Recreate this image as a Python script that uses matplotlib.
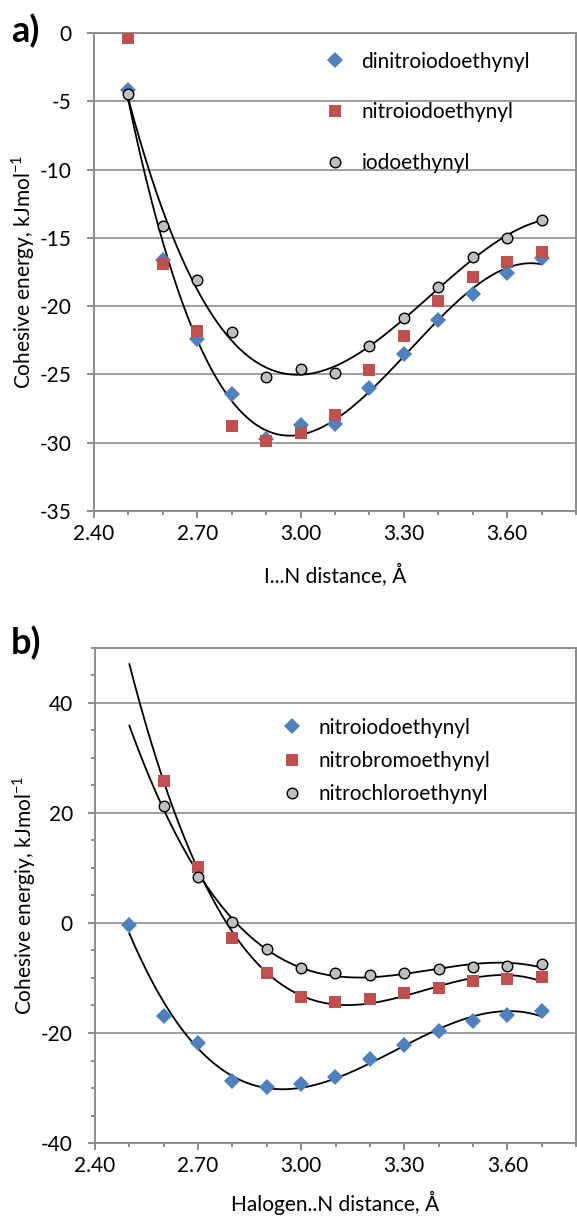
import numpy as np
import matplotlib
matplotlib.use("Agg")
from matplotlib import pyplot as plt
from matplotlib.ticker import MultipleLocator, FormatStrFormatter

plt.rcParams['font.family'] = ['Lato', 'DejaVu Sans']
plt.rcParams['mathtext.fontset'] = 'custom'
plt.rcParams['mathtext.rm'] = 'Lato'
plt.rcParams['axes.unicode_minus'] = False

# I...N / Halogen..N distances
dist_a = [2.5, 2.6, 2.7, 2.8, 2.9, 3.0, 3.1, 3.2, 3.3, 3.4, 3.5, 3.6, 3.7]
dist_b_x = [2.6, 2.7, 2.8, 2.9, 3.0, 3.1, 3.2, 3.3, 3.4, 3.5, 3.6, 3.7]

# a) cohesive energies, kJ/mol
dinitroiodo = [-4.2, -16.6, -22.4, -26.4, -29.7, -28.7, -28.6, -26.0, -23.5, -21.0, -19.1, -17.6, -16.5]
nitroiodo = [-0.4, -16.9, -21.8, -28.8, -29.9, -29.3, -28.0, -24.7, -22.2, -19.6, -17.9, -16.8, -16.0]
iodo = [-4.5, -14.1, -18.1, -21.9, -25.2, -24.6, -24.9, -22.9, -20.9, -18.6, -16.4, -15.0, -13.7]

# b) halogen series (nitroiodoethynyl same as above)
nitrobromo = [25.9, 10.2, -2.7, -9.1, -13.5, -14.4, -13.8, -12.8, -11.8, -10.6, -10.2, -9.9]
nitrochloro = [21.3, 8.4, 0.1, -4.7, -8.1, -9.1, -9.5, -9.1, -8.4, -8.0, -7.8, -7.5]

BLUE = '#4F81BD'
RED = '#C0504D'
GREY_FILL = '#BFBFBF'
AXIS_GREY = '#8C8C8C'
FS = 15

marker_kw = {
    'blue': dict(marker='D', ms=8, mfc=BLUE, mec=BLUE, mew=0, ls='none'),
    'red': dict(marker='s', ms=8.2, mfc=RED, mec=RED, mew=0, ls='none'),
    'grey': dict(marker='o', ms=7.6, mfc=GREY_FILL, mec='black', mew=1.0, ls='none'),
}


def trend(ax, x, y, deg=3, x0=2.5, x1=3.7):
    # cubic trendline, drawn over 2.5-3.7
    coef = np.polyfit(x, y, deg)
    xs = np.linspace(x0, x1, 300)
    ax.plot(xs, np.polyval(coef, xs), color='black', lw=1.3, zorder=2)


def style_axes(ax, ylim, ymajor, yminor=None):
    ax.set_xlim(2.4, 3.8)
    ax.set_ylim(*ylim)
    ax.xaxis.set_major_locator(MultipleLocator(0.3))
    ax.xaxis.set_minor_locator(MultipleLocator(0.1))
    ax.xaxis.set_major_formatter(FormatStrFormatter('%.2f'))
    ax.yaxis.set_major_locator(MultipleLocator(ymajor))
    if yminor:
        ax.yaxis.set_minor_locator(MultipleLocator(yminor))
    else:
        ax.yaxis.set_minor_locator(plt.NullLocator())
    ax.grid(axis='y', which='major', color=AXIS_GREY, lw=1.2)
    ax.set_axisbelow(True)
    for s in ax.spines.values():
        s.set_color(AXIS_GREY)
        s.set_linewidth(1.4)
    ax.tick_params(which='major', direction='out', length=5, width=1.4,
                   color=AXIS_GREY, labelsize=FS)
    ax.tick_params(which='minor', direction='out', length=3, width=1.4,
                   color=AXIS_GREY)
    ax.tick_params(axis='y', which='major', pad=11)
    ax.tick_params(axis='x', which='major', pad=4)


fig = plt.figure(figsize=(5.77, 12.16), dpi=100)

# ---- panel a
ax1 = fig.add_axes([94 / 577, 1 - 511 / 1216, 482 / 577, 478 / 1216])
style_axes(ax1, (-35, 0), 5)
ax1.plot(dist_a, dinitroiodo, label='dinitroiodoethynyl', zorder=3, **marker_kw['blue'])
ax1.plot(dist_a, nitroiodo, label='nitroiodoethynyl', zorder=3, **marker_kw['red'])
ax1.plot(dist_a, iodo, label='iodoethynyl', zorder=4, **marker_kw['grey'])
trend(ax1, dist_a, dinitroiodo)
trend(ax1, dist_a, iodo)
ax1.set_xlabel('I...N distance, Å', fontsize=FS, labelpad=15)
ax1.set_ylabel(r'Cohesive energy, kJmol$^{\mathregular{-1}}$', fontsize=FS, labelpad=2)
ax1.legend(loc='upper left', bbox_to_anchor=(325 / 577, 1 - 51.5 / 1216),
           bbox_transform=fig.transFigure, frameon=False, fontsize=FS,
           handlelength=1.0, handletextpad=0.75, labelspacing=1.48,
           borderpad=0, borderaxespad=0)
fig.text(11 / 577, 1 - 31 / 1216, 'a)', fontsize=26, fontweight='bold', va='center')

# ---- panel b
ax2 = fig.add_axes([95 / 577, 1 - 1143 / 1216, 481 / 577, 495 / 1216])
style_axes(ax2, (-40, 50), 20, 5)
ax2.plot(dist_a, nitroiodo, label='nitroiodoethynyl', zorder=3, **marker_kw['blue'])
ax2.plot(dist_b_x, nitrobromo, label='nitrobromoethynyl', zorder=3, **marker_kw['red'])
ax2.plot(dist_b_x, nitrochloro, label='nitrochloroethynyl', zorder=4, **marker_kw['grey'])
trend(ax2, dist_a, nitroiodo)
trend(ax2, dist_b_x, nitrobromo)
trend(ax2, dist_b_x, nitrochloro)
ax2.set_xlabel('Halogen..N distance, Å', fontsize=FS, labelpad=11)
ax2.set_ylabel(r'Cohesive energiy, kJmol$^{\mathregular{-1}}$', fontsize=FS, labelpad=2)
ax2.legend(loc='upper left', bbox_to_anchor=(282 / 577, 1 - 717.5 / 1216),
           bbox_transform=fig.transFigure, frameon=False, fontsize=FS,
           handlelength=1.0, handletextpad=0.75, labelspacing=0.64,
           borderpad=0, borderaxespad=0)
fig.text(11 / 577, 1 - 643 / 1216, 'b)', fontsize=26, fontweight='bold', va='center')

fig.savefig('out.png', dpi=100)
